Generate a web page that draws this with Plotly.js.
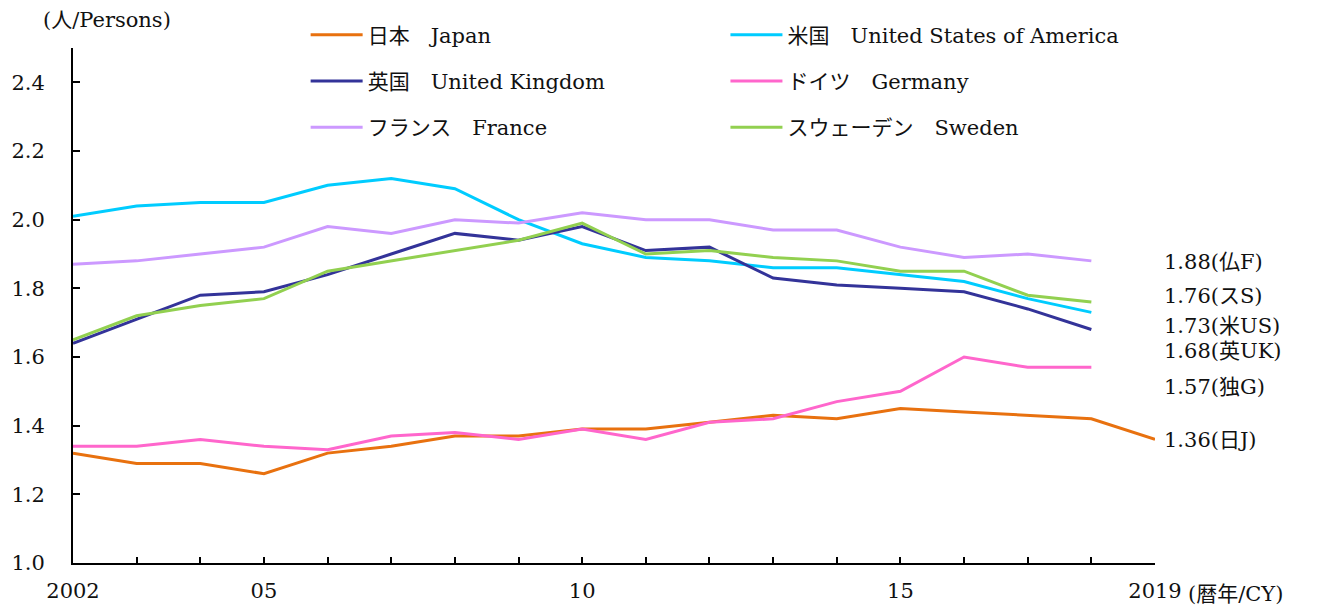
<!DOCTYPE html>
<html>
<head>
<meta charset="utf-8">
<script src="https://cdn.plot.ly/plotly-3.0.1.min.js"></script>
<style>html,body{margin:0;padding:0;background:#fff;}#chart{width:1317px;height:610px;}</style>
</head>
<body>
<div id="chart"></div>
<script>
const years = [2002,2003,2004,2005,2006,2007,2008,2009,2010,2011,2012,2013,2014,2015,2016,2017,2018,2019];
const japan   = [1.32,1.29,1.29,1.26,1.32,1.34,1.37,1.37,1.39,1.39,1.41,1.43,1.42,1.45,1.44,1.43,1.42,1.36];
const usa     = [2.01,2.04,2.05,2.05,2.10,2.12,2.09,2.00,1.93,1.89,1.88,1.86,1.86,1.84,1.82,1.77,1.73];
const uk      = [1.64,1.71,1.78,1.79,1.84,1.90,1.96,1.94,1.98,1.91,1.92,1.83,1.81,1.80,1.79,1.74,1.68];
const germany = [1.34,1.34,1.36,1.34,1.33,1.37,1.38,1.36,1.39,1.36,1.41,1.42,1.47,1.50,1.60,1.57,1.57];
const france  = [1.87,1.88,1.90,1.92,1.98,1.96,2.00,1.99,2.02,2.00,2.00,1.97,1.97,1.92,1.89,1.90,1.88];
const sweden  = [1.65,1.72,1.75,1.77,1.85,1.88,1.91,1.94,1.99,1.90,1.91,1.89,1.88,1.85,1.85,1.78,1.76];

const seriesNames = ["日本　Japan","米国　United States of America","英国　United Kingdom","ドイツ　Germany","フランス　France","スウェーデン　Sweden"];
const endAbbr = ["日J","米US","英UK","独G","仏F","スS"];
const xTickVals = [2002,2005,2010,2015,2019];
const xTickText = ["2002","05","10","15","2019"];
const yTickVals = [1.0,1.2,1.4,1.6,1.8,2.0,2.2,2.4];

const FONT = '"DejaVu Serif", "Noto Sans CJK JP", serif';
const FS = 21;
const colors = ["#E8710F","#00CCFF","#333399","#FF66CC","#CC99FF","#92D050"];
const dataSets = [japan, usa, uk, germany, france, sweden];
const legendOf = ["legend","legend2","legend","legend2","legend","legend2"];

const traces = dataSets.map((vals, i) => ({
  type: "scatter", mode: "lines",
  x: years.slice(0, vals.length), y: vals,
  name: seriesNames[i],
  line: {color: colors[i], width: 3},
  legend: legendOf[i],
  legendgroup: "g" + i,
  hoverinfo: "x+y+name"
}));

const allTicks = years.slice();
const allText = years.map(y => { const k = xTickVals.indexOf(y); return k >= 0 ? xTickText[k] : ""; });

// end-of-line labels
const labelY = {4: 1.877, 5: 1.778, 1: 1.690, 2: 1.617, 3: 1.513, 0: 1.358};
const annotations = [];
[4,5,1,2,3,0].forEach(i => {
  const vals = dataSets[i];
  annotations.push({
    xref: "paper", yref: "y", x: 1.0065, y: labelY[i],
    xanchor: "left", yanchor: "middle", showarrow: false,
    text: vals[vals.length - 1].toFixed(2) + "(" + endAbbr[i] + ")",
    font: {family: FONT, size: FS, color: "#111"}
  });
});
annotations.push({
  xref: "paper", yref: "paper", x: 0.031, y: 1.054, xanchor: "center", yanchor: "middle",
  showarrow: false, text: "(人/Persons)", font: {family: FONT, size: FS, color: "#111"}
});
annotations.push({
  xref: "paper", yref: "paper", x: 1.029, y: -0.060, xanchor: "left", yanchor: "middle",
  showarrow: false, text: "(暦年/CY)", font: {family: FONT, size: FS, color: "#111"}
});

const legendCommon = {
  orientation: "v", xanchor: "left", yanchor: "top",
  bgcolor: "rgba(0,0,0,0)", borderwidth: 0,
  font: {family: FONT, size: FS, color: "#111"},
  tracegroupgap: 16, itemwidth: 52
};

const layout = {
  width: 1317, height: 610,
  margin: {l: 73, r: 162, t: 48, b: 47},
  paper_bgcolor: "#fff", plot_bgcolor: "#fff",
  showlegend: true,
  legend: Object.assign({}, legendCommon, {x: 0.215, y: 1.065}),
  legend2: Object.assign({}, legendCommon, {x: 0.603, y: 1.065}),
  xaxis: {
    range: [2002, 2019], tickmode: "array", tickvals: allTicks, ticktext: allText,
    ticks: "inside", ticklen: 6, tickwidth: 2, tickcolor: "#000",
    showline: true, linecolor: "#000", linewidth: 2, showgrid: false, zeroline: false,
    tickfont: {family: FONT, size: FS, color: "#111"}, ticklabelstandoff: 8
  },
  yaxis: {
    range: [1.0, 2.5], tickmode: "array", tickvals: yTickVals,
    ticktext: yTickVals.map(v => v.toFixed(1)),
    ticks: "inside", ticklen: 7, tickwidth: 2, tickcolor: "#000",
    showline: true, linecolor: "#000", linewidth: 2, showgrid: false, zeroline: false,
    tickfont: {family: FONT, size: FS, color: "#111"}, ticklabelstandoff: 22
  },
  annotations: annotations
};

Plotly.newPlot("chart", traces, layout, {displayModeBar: false, staticPlot: true});
</script>
</body>
</html>
